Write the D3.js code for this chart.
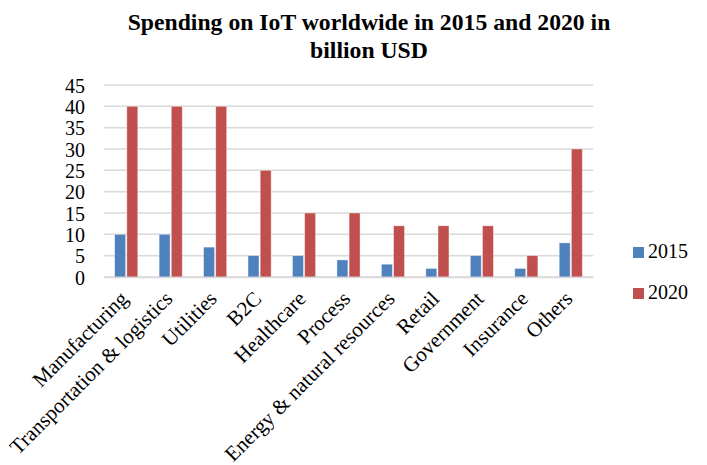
<!DOCTYPE html>
<html><head><meta charset="utf-8">
<script src="https://cdn.jsdelivr.net/npm/d3@7"></script>
<style>body{margin:0;background:#fff}svg{display:block}text{font-family:"Liberation Serif","Times New Roman",serif}</style>
</head><body><svg id="c" width="707" height="465"></svg>
<script>
const categories = ["Manufacturing","Transportation & logistics","Utilities","B2C","Healthcare","Process","Energy & natural resources","Retail","Government","Insurance","Others"];
const series = ["2015","2020"];
const values2015 = [10,10,7,5,5,4,3,2,5,2,8];
const values2020 = [40,40,40,25,15,15,12,12,12,5,30];
const yTicks = [0,5,10,15,20,25,30,35,40,45];
const colors = ["#4F81BD","#C0504D"];
const titleLines = ["Spending on IoT worldwide in 2015 and 2020 in","billion USD"];

const svg = d3.select("#c");
const x0 = d3.scaleBand().domain(categories).range([104,593]).paddingInner(0.48).paddingOuter(0.24);
const x1 = d3.scaleBand().domain(series).range([0,x0.bandwidth()]).paddingInner(0.1);
const y = d3.scaleLinear().domain([0,45]).range([277,85]);
const color = d3.scaleOrdinal().domain(series).range(colors);

// title
svg.append("text").attr("text-anchor","middle")
  .attr("font-weight","bold").attr("font-size",23.7)
  .selectAll("tspan").data(titleLines).join("tspan")
  .attr("x",369).attr("y",(d,i)=>30+i*28).text(d=>d);

// gridlines
svg.append("g").selectAll("line").data(yTicks).join("line")
  .attr("x1",104).attr("x2",593).attr("y1",d=>y(d)).attr("y2",d=>y(d))
  .attr("stroke","#d9d9d9").attr("stroke-width",1.5);

// y axis
const yAxis = svg.append("g").attr("transform","translate(104,0)")
  .call(d3.axisLeft(y).tickValues(yTicks).tickSize(0).tickPadding(19));
yAxis.select(".domain").remove();
yAxis.selectAll("text").attr("font-size",20).attr("fill","#000").attr("font-family","Liberation Serif").attr("dy","0.35em");

// bars
const data = categories.map((c,i)=>({c, vals:[{s:"2015",v:values2015[i]},{s:"2020",v:values2020[i]}]}));
const g = svg.append("g").selectAll("g").data(data).join("g")
  .attr("transform",d=>`translate(${x0(d.c)},0)`);
g.selectAll("rect").data(d=>d.vals).join("rect")
  .attr("x",d=>x1(d.s)).attr("width",x1.bandwidth())
  .attr("y",d=>y(d.v)).attr("height",d=>y(0)-y(d.v))
  .attr("fill",d=>color(d.s)).attr("stroke","#fff").attr("stroke-opacity",0.5).attr("stroke-width",0.75);

// x axis
const xAxis = svg.append("g").attr("transform",`translate(0,${y(0)})`)
  .call(d3.axisBottom(x0).tickSize(0).tickPadding(0));
xAxis.select(".domain").attr("stroke","#d9d9d9").attr("stroke-width",1.5);
xAxis.selectAll("text").attr("font-size",21).attr("fill","#000").attr("font-family","Liberation Serif")
  .attr("text-anchor","end").attr("dy",0).attr("y",0)
  .attr("transform","translate(3,23) rotate(-45)");

// legend
const leg = svg.append("g").selectAll("g").data(series).join("g")
  .attr("transform",(d,i)=>`translate(633,${247+i*41})`);
leg.append("rect").attr("width",11).attr("height",11).attr("fill",d=>color(d));
leg.append("text").attr("x",15).attr("y",11).attr("font-size",20).text(d=>d);
</script></body></html>
